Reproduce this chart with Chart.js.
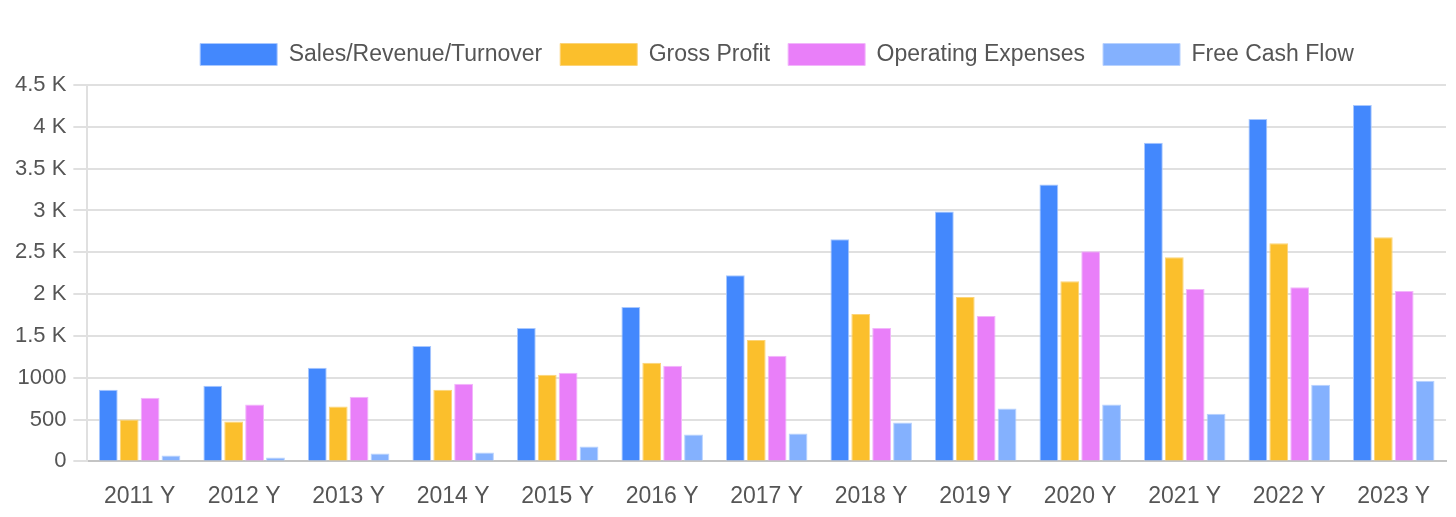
<!DOCTYPE html>
<html>
<head>
<meta charset="utf-8">
<style>
  html, body { margin: 0; padding: 0; background: #fff; }
  #wrap { width: 1456px; height: 517px; }
</style>
</head>
<body>
<div id="wrap"><canvas id="myChart"></canvas></div>
<script src="https://cdn.jsdelivr.net/npm/chart.js"></script>
<script>
  const years = ["2011 Y", "2012 Y", "2013 Y", "2014 Y", "2015 Y", "2016 Y", "2017 Y",
                 "2018 Y", "2019 Y", "2020 Y", "2021 Y", "2022 Y", "2023 Y"];
  const sales = [857, 905, 1119, 1381, 1595, 1845, 2226, 2655, 2988, 3310, 3810, 4095, 4262];
  const grossProfit = [500, 476, 655, 857, 1036, 1179, 1452, 1762, 1964, 2155, 2440, 2607, 2679];
  const opex = [762, 679, 774, 929, 1060, 1143, 1262, 1595, 1738, 2512, 2060, 2083, 2036];
  const freeCashFlow = [71, 48, 95, 107, 179, 321, 333, 464, 631, 679, 571, 917, 964];

  Chart.defaults.font.family = "'Liberation Sans', Arial, sans-serif";
  Chart.defaults.color = "#555";

  // a bit more room under the legend, and nudge it right
  const legendTweak = {
    id: "legendTweak",
    beforeInit(chart) {
      const fit = chart.legend.fit;
      chart.legend.fit = function () {
        fit.bind(chart.legend)();
        this.height += 9;
      };
    },
    afterUpdate(chart) {
      chart.legend.left += 50;
      chart.legend.right += 50;
    },
  };

  const ctx = document.getElementById("myChart");
  new Chart(ctx, {
    type: "bar",
    data: {
      labels: years,
      datasets: [
        { label: "Sales/Revenue/Turnover", data: sales,
          backgroundColor: "#4388fd", borderColor: "#a9c8fe", borderWidth: 1 },
        { label: "Gross Profit", data: grossProfit,
          backgroundColor: "#fbbf2c", borderColor: "#fcd478", borderWidth: 1 },
        { label: "Operating Expenses", data: opex,
          backgroundColor: "#e97ff9", borderColor: "#f2b6fb", borderWidth: 1 },
        { label: "Free Cash Flow", data: freeCashFlow,
          backgroundColor: "#84b1fe", borderColor: "#b8d2fe", borderWidth: 1 },
      ],
    },
    options: {
      responsive: true,
      maintainAspectRatio: false,
      animation: false,
      layout: { padding: { top: 25, right: 10, bottom: 0, left: 8 } },
      plugins: {
        legend: {
          labels: {
            boxWidth: 77,
            boxHeight: 22,
            padding: 18,
            font: { size: 23 },
            color: "#555",
          },
        },
        tooltip: { enabled: false },
      },
      scales: {
        x: {
          grid: { display: false, tickLength: 14 },
          border: { color: "#c4c4c4", width: 2 },
          ticks: { font: { size: 23 }, padding: 7, color: "#555" },
        },
        y: {
          min: 0,
          max: 4500,
          grid: { color: "#e0e0e0", lineWidth: 2, tickLength: 14 },
          border: { color: "#e0e0e0", width: 2 },
          ticks: {
            stepSize: 500,
            font: { size: 22 },
            padding: 7,
            color: "#555",
            callback: (v) => (v >= 1500 ? v / 1000 + " K" : v),
          },
        },
      },
    },
    plugins: [legendTweak],
  });
</script>
</body>
</html>
